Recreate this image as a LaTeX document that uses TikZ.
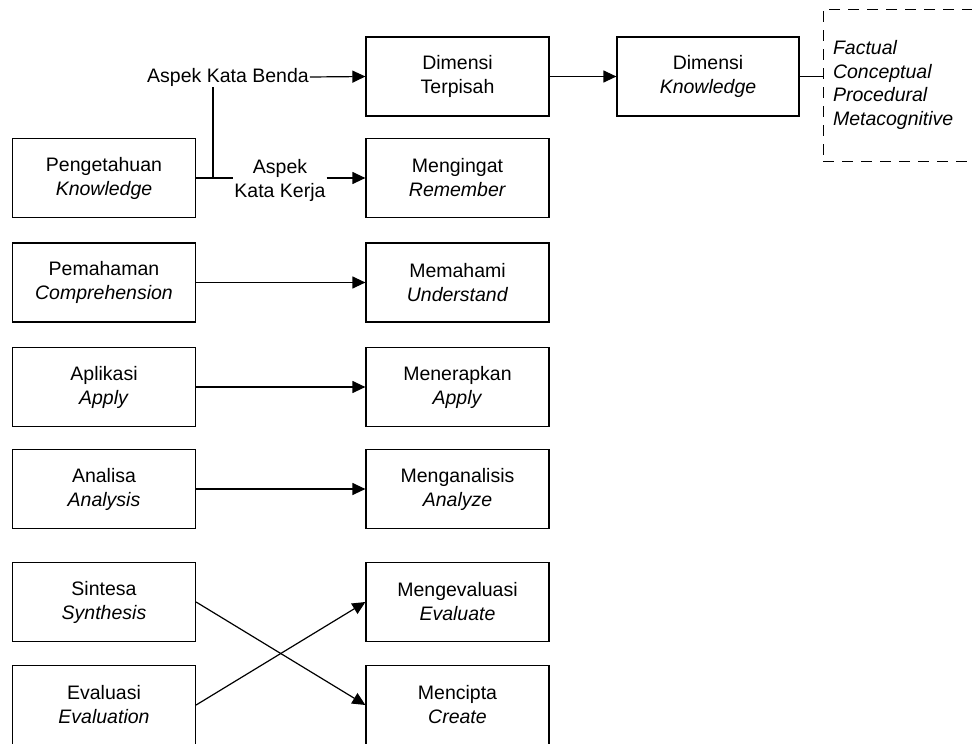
\documentclass[tikz,border=0pt]{standalone}
\usepackage{fontspec}
\setmainfont{Liberation Sans}
\usetikzlibrary{arrows.meta}
\begin{document}
\begin{tikzpicture}[x=1pt,y=-1pt,
  txt/.style={font=\fontsize{19.5}{24}\selectfont},
  box/.style={txt,draw,line width=1.2pt,minimum width=183pt,minimum height=79pt,align=center,inner sep=0pt},
  lbl/.style={txt,align=center,inner sep=1pt},
  arr/.style={line width=1.2pt,-{Triangle[length=13pt,width=12pt]}},
  ln/.style={line width=1.2pt}]
\useasboundingbox (0,0) rectangle (972,744);
% left column
\node[box] (peng) at (104,178) {Pengetahuan\\\textit{Knowledge}};
\node[box] (pem) at (104,282.5) {Pemahaman\\\textit{Comprehension}};
\node[box] (apl) at (104,387) {Aplikasi\\\textit{Apply}};
\node[box] (ana) at (104,489) {Analisa\\\textit{Analysis}};
\node[box] (sin) at (104,602) {Sintesa\\\textit{Synthesis}};
\node[box] (eva) at (104,705) {Evaluasi\\\textit{Evaluation}};
% right column
\node[box] (dt) at (457.5,76.5) {Dimensi\\Terpisah};
\node[box] (ming) at (457.5,178) {Mengingat\\\textit{Remember}};
\node[box] (mem) at (457.5,282.5) {Memahami\\\textit{Understand}};
\node[box] (mener) at (457.5,387) {Menerapkan\\\textit{Apply}};
\node[box] (menga) at (457.5,489) {Menganalisis\\\textit{Analyze}};
\node[box] (mengev) at (457.5,602) {Mengevaluasi\\\textit{Evaluate}};
\node[box] (menc) at (457.5,705) {Mencipta\\\textit{Create}};
% knowledge dimension
\node[box,minimum width=182pt] (dk) at (708,76.5) {Dimensi\\\textit{Knowledge}};
\node[txt,draw,line width=1pt,dash pattern=on 11pt off 8pt,minimum width=170pt,minimum height=152pt,
  text width=150pt,inner xsep=10pt,inner ysep=0pt,align=left,font=\fontsize{19.5}{23.5}\selectfont\itshape]
  (facts) at (908,85) {Factual\\Conceptual\\Procedural\\Metacognitive};
% labels
\node[lbl] (ktb) at (228,77) {Aspek Kata Benda};
\node[lbl] (kk) at (280,180) {Aspek\\Kata Kerja};
\coordinate (j) at (213,178);
% connectors
\draw[ln] (peng.east) -- (peng.east -| kk.west);
\draw[ln] (j) -- (j |- ktb.south);
\draw[arr] (ktb.east) -- (dt.west);
\draw[arr] (kk.east |- ming.west) -- (ming.west);
\draw[arr] (pem) -- (mem);
\draw[arr] (apl) -- (mener);
\draw[arr] (ana) -- (menga);
\draw[arr] (sin.east) -- (menc.west);
\draw[arr] (eva.east) -- (mengev.west);
\draw[arr] (dt) -- (dk);
\draw[ln] (dk.east) -- (facts.west |- dk.east);
\end{tikzpicture}
\end{document}
